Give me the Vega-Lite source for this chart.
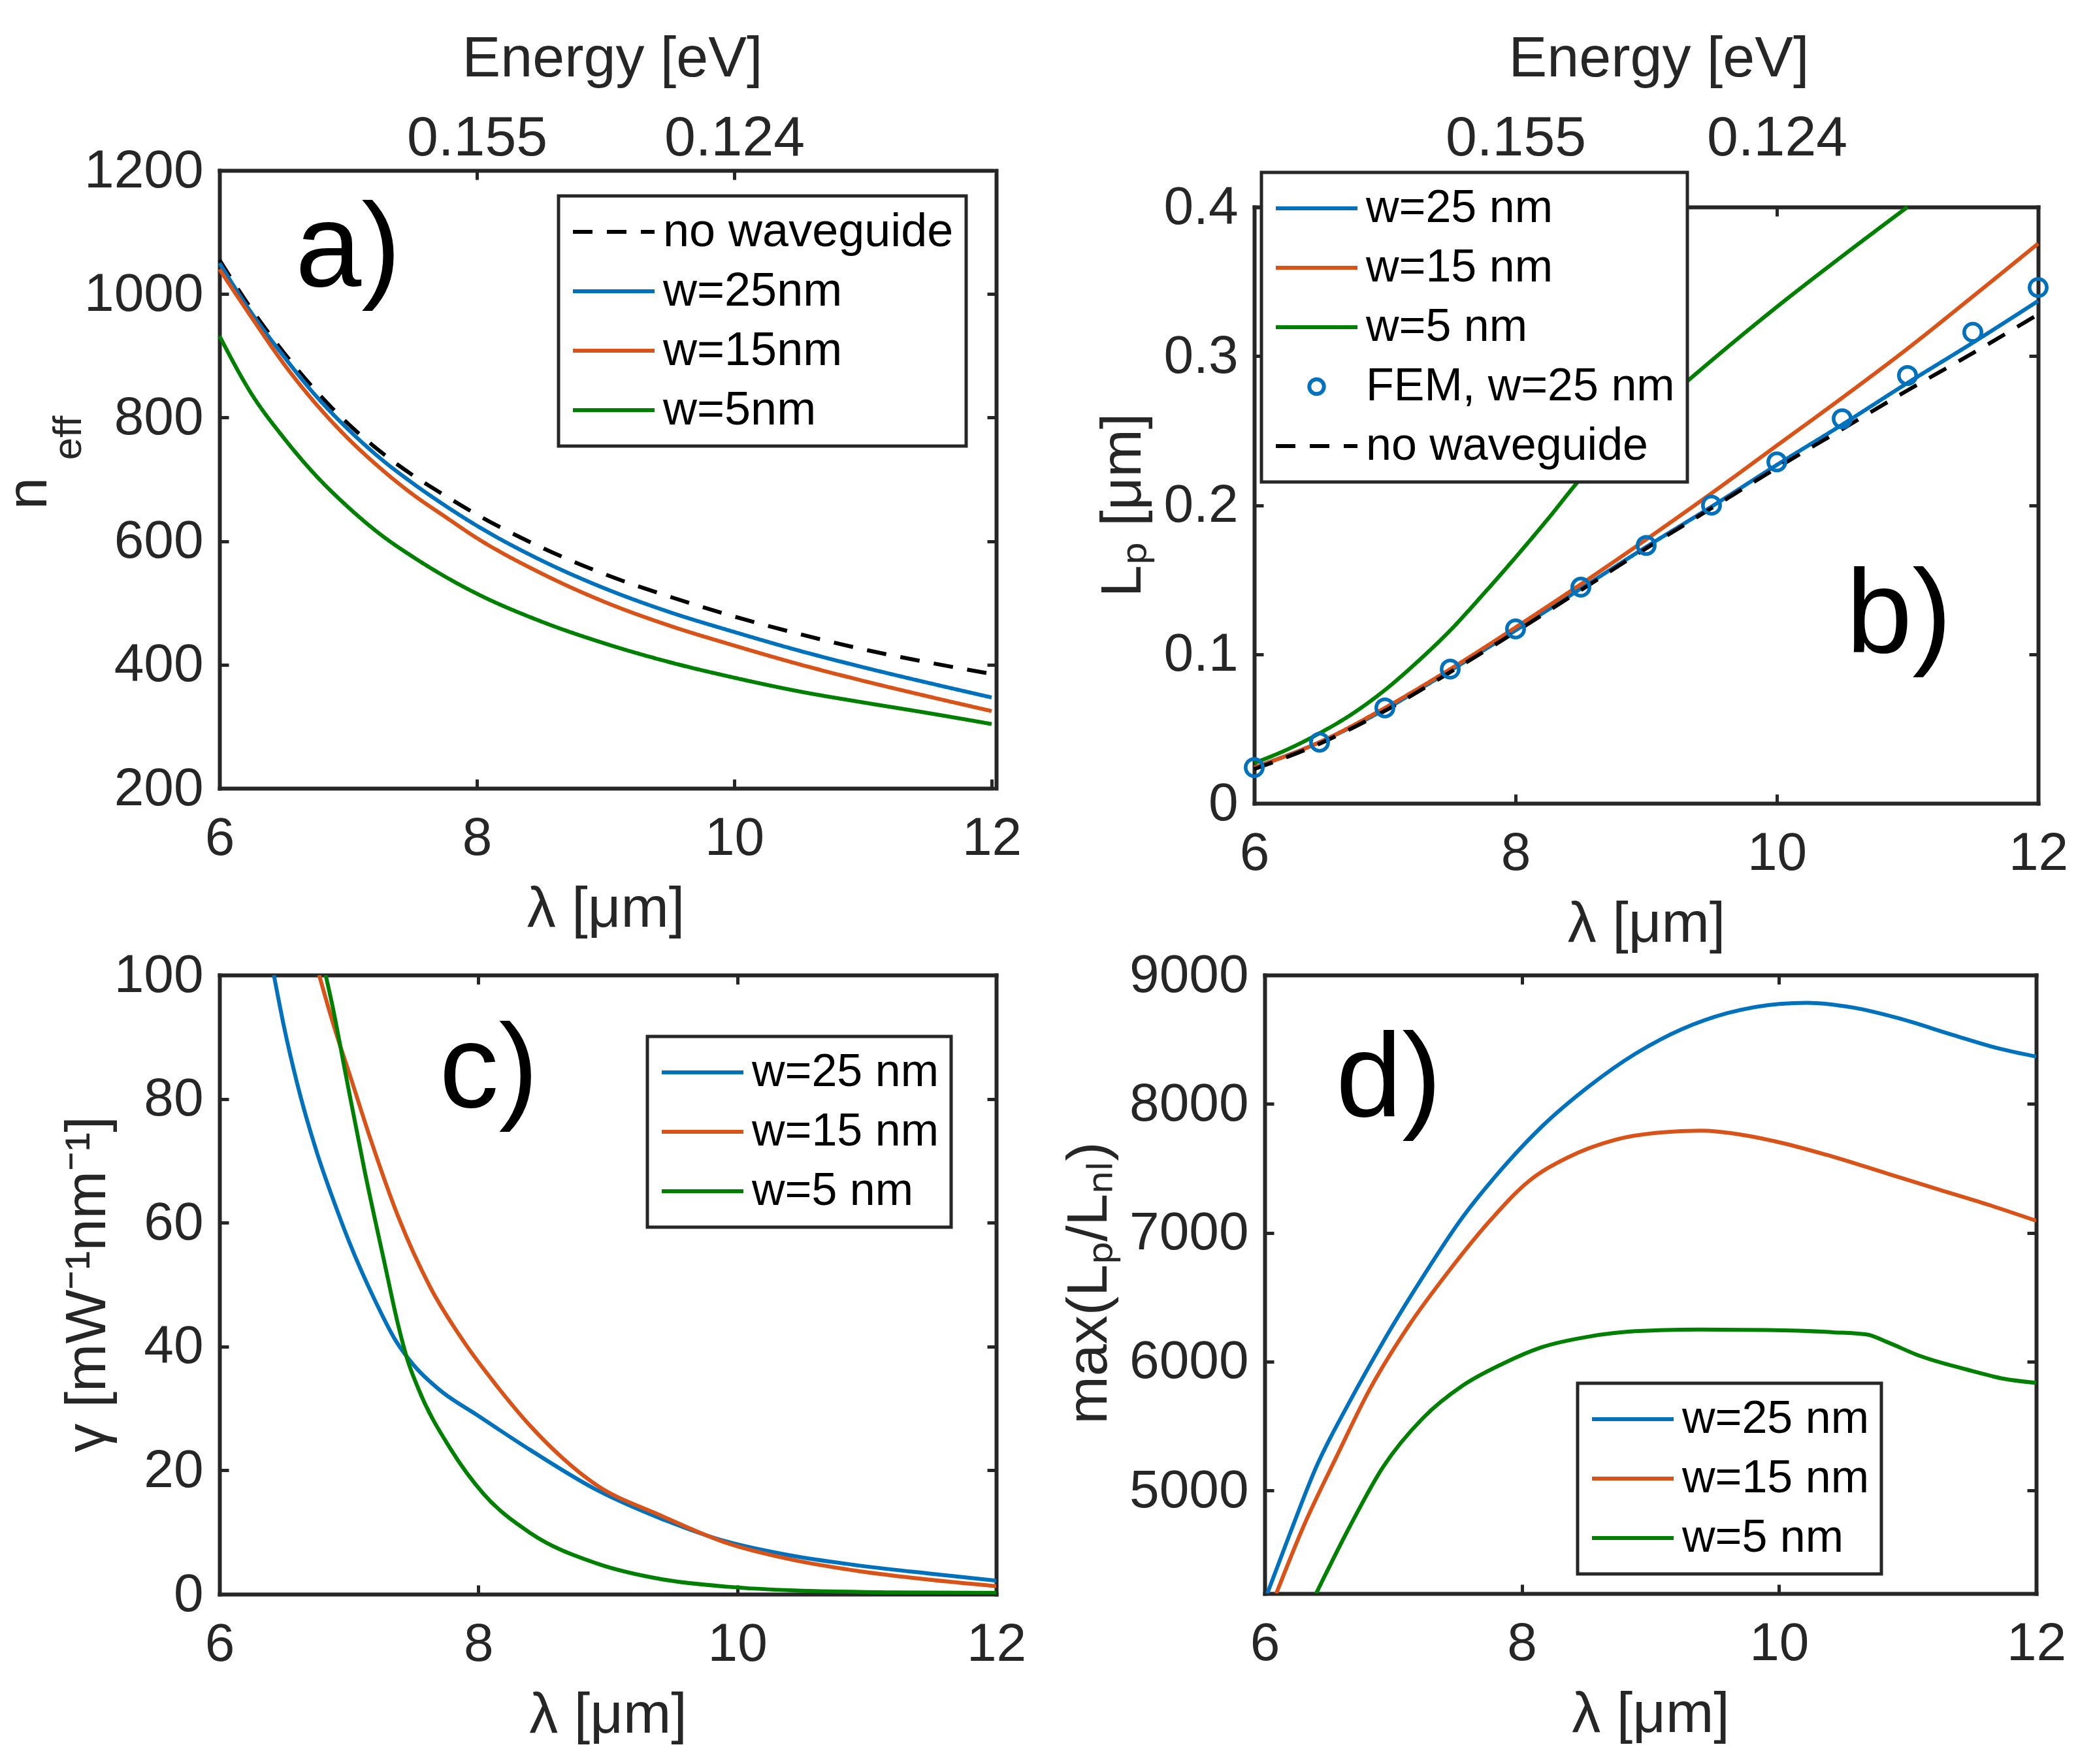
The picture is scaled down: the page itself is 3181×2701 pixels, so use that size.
{
  "$schema": "https://vega.github.io/schema/vega-lite/v6.json",
  "autosize": {"type": "none"},
  "padding": {"left": 336, "top": 261, "right": 2845, "bottom": 2440},
  "background": "white",
  "columns": 2,
  "spacing": {"row": 263, "column": 395},
  "bounds": "flush",
  "align": "each",
  "resolve": {"scale": {"color": "independent", "strokeDash": "independent"}, "legend": {"color": "independent", "strokeDash": "independent"}},
  "datasets": {
    "a": [
      {"lam": 6, "val": 1055, "s": "no waveguide"}, {"lam": 6.25, "val": 975, "s": "no waveguide"}, {"lam": 6.5, "val": 905, "s": "no waveguide"}, {"lam": 6.75, "val": 843, "s": "no waveguide"}, {"lam": 7, "val": 790, "s": "no waveguide"}, {"lam": 7.25, "val": 745, "s": "no waveguide"}, {"lam": 7.5, "val": 707, "s": "no waveguide"}, {"lam": 7.75, "val": 674, "s": "no waveguide"}, {"lam": 8, "val": 643, "s": "no waveguide"}, {"lam": 8.5, "val": 590, "s": "no waveguide"}, {"lam": 9, "val": 546, "s": "no waveguide"}, {"lam": 9.5, "val": 510, "s": "no waveguide"}, {"lam": 10, "val": 478, "s": "no waveguide"}, {"lam": 10.5, "val": 450, "s": "no waveguide"}, {"lam": 11, "val": 425, "s": "no waveguide"}, {"lam": 11.5, "val": 404, "s": "no waveguide"}, {"lam": 12, "val": 385, "s": "no waveguide"},
      {"lam": 6, "val": 1050, "s": "w=25nm"}, {"lam": 6.25, "val": 969, "s": "w=25nm"}, {"lam": 6.5, "val": 899, "s": "w=25nm"}, {"lam": 6.75, "val": 835, "s": "w=25nm"}, {"lam": 7, "val": 781, "s": "w=25nm"}, {"lam": 7.25, "val": 734, "s": "w=25nm"}, {"lam": 7.5, "val": 694, "s": "w=25nm"}, {"lam": 7.75, "val": 658, "s": "w=25nm"}, {"lam": 8, "val": 625, "s": "w=25nm"}, {"lam": 8.5, "val": 569, "s": "w=25nm"}, {"lam": 9, "val": 523, "s": "w=25nm"}, {"lam": 9.5, "val": 485, "s": "w=25nm"}, {"lam": 10, "val": 453, "s": "w=25nm"}, {"lam": 10.5, "val": 423, "s": "w=25nm"}, {"lam": 11, "val": 396, "s": "w=25nm"}, {"lam": 11.5, "val": 371, "s": "w=25nm"}, {"lam": 12, "val": 347, "s": "w=25nm"},
      {"lam": 6, "val": 1040, "s": "w=15nm"}, {"lam": 6.25, "val": 962, "s": "w=15nm"}, {"lam": 6.5, "val": 887, "s": "w=15nm"}, {"lam": 6.75, "val": 822, "s": "w=15nm"}, {"lam": 7, "val": 766, "s": "w=15nm"}, {"lam": 7.25, "val": 718, "s": "w=15nm"}, {"lam": 7.5, "val": 676, "s": "w=15nm"}, {"lam": 7.75, "val": 640, "s": "w=15nm"}, {"lam": 8, "val": 605, "s": "w=15nm"}, {"lam": 8.5, "val": 548, "s": "w=15nm"}, {"lam": 9, "val": 501, "s": "w=15nm"}, {"lam": 9.5, "val": 463, "s": "w=15nm"}, {"lam": 10, "val": 431, "s": "w=15nm"}, {"lam": 10.5, "val": 401, "s": "w=15nm"}, {"lam": 11, "val": 374, "s": "w=15nm"}, {"lam": 11.5, "val": 349, "s": "w=15nm"}, {"lam": 12, "val": 325, "s": "w=15nm"},
      {"lam": 6, "val": 932, "s": "w=5nm"}, {"lam": 6.25, "val": 838, "s": "w=5nm"}, {"lam": 6.5, "val": 767, "s": "w=5nm"}, {"lam": 6.75, "val": 706, "s": "w=5nm"}, {"lam": 7, "val": 655, "s": "w=5nm"}, {"lam": 7.25, "val": 611, "s": "w=5nm"}, {"lam": 7.5, "val": 575, "s": "w=5nm"}, {"lam": 7.75, "val": 543, "s": "w=5nm"}, {"lam": 8, "val": 515, "s": "w=5nm"}, {"lam": 8.5, "val": 470, "s": "w=5nm"}, {"lam": 9, "val": 434, "s": "w=5nm"}, {"lam": 9.5, "val": 404, "s": "w=5nm"}, {"lam": 10, "val": 379, "s": "w=5nm"}, {"lam": 10.5, "val": 357, "s": "w=5nm"}, {"lam": 11, "val": 339, "s": "w=5nm"}, {"lam": 11.5, "val": 322, "s": "w=5nm"}, {"lam": 12, "val": 304, "s": "w=5nm"}
    ],
    "b": [
      {"lam": 6, "val": 0.024, "s": "w=25 nm"}, {"lam": 6.5, "val": 0.041, "s": "w=25 nm"}, {"lam": 7, "val": 0.063, "s": "w=25 nm"}, {"lam": 7.5, "val": 0.089, "s": "w=25 nm"}, {"lam": 8, "val": 0.116, "s": "w=25 nm"}, {"lam": 8.5, "val": 0.144, "s": "w=25 nm"}, {"lam": 9, "val": 0.172, "s": "w=25 nm"}, {"lam": 9.5, "val": 0.199, "s": "w=25 nm"}, {"lam": 10, "val": 0.227, "s": "w=25 nm"}, {"lam": 10.5, "val": 0.254, "s": "w=25 nm"}, {"lam": 11, "val": 0.282, "s": "w=25 nm"}, {"lam": 11.5, "val": 0.309, "s": "w=25 nm"}, {"lam": 12, "val": 0.337, "s": "w=25 nm"},
      {"lam": 6, "val": 0.024, "s": "w=15 nm"}, {"lam": 6.5, "val": 0.041, "s": "w=15 nm"}, {"lam": 7, "val": 0.064, "s": "w=15 nm"}, {"lam": 7.5, "val": 0.090, "s": "w=15 nm"}, {"lam": 8, "val": 0.118, "s": "w=15 nm"}, {"lam": 8.5, "val": 0.147, "s": "w=15 nm"}, {"lam": 9, "val": 0.177, "s": "w=15 nm"}, {"lam": 9.5, "val": 0.208, "s": "w=15 nm"}, {"lam": 10, "val": 0.240, "s": "w=15 nm"}, {"lam": 10.5, "val": 0.272, "s": "w=15 nm"}, {"lam": 11, "val": 0.305, "s": "w=15 nm"}, {"lam": 11.5, "val": 0.340, "s": "w=15 nm"}, {"lam": 12, "val": 0.3755, "s": "w=15 nm"},
      {"lam": 6, "val": 0.027, "s": "w=5 nm"}, {"lam": 6.25, "val": 0.036, "s": "w=5 nm"}, {"lam": 6.5, "val": 0.047, "s": "w=5 nm"}, {"lam": 6.75, "val": 0.060, "s": "w=5 nm"}, {"lam": 7, "val": 0.076, "s": "w=5 nm"}, {"lam": 7.25, "val": 0.095, "s": "w=5 nm"}, {"lam": 7.5, "val": 0.116, "s": "w=5 nm"}, {"lam": 7.75, "val": 0.140, "s": "w=5 nm"}, {"lam": 8, "val": 0.165, "s": "w=5 nm"}, {"lam": 8.25, "val": 0.191, "s": "w=5 nm"}, {"lam": 8.5, "val": 0.218, "s": "w=5 nm"}, {"lam": 9, "val": 0.259, "s": "w=5 nm"}, {"lam": 9.5, "val": 0.297, "s": "w=5 nm"}, {"lam": 10, "val": 0.333, "s": "w=5 nm"}, {"lam": 10.5, "val": 0.367, "s": "w=5 nm"}, {"lam": 11, "val": 0.400, "s": "w=5 nm"},
      {"lam": 6, "val": 0.023, "s": "no waveguide"}, {"lam": 6.5, "val": 0.040, "s": "no waveguide"}, {"lam": 7, "val": 0.062, "s": "no waveguide"}, {"lam": 7.5, "val": 0.088, "s": "no waveguide"}, {"lam": 8, "val": 0.115, "s": "no waveguide"}, {"lam": 8.5, "val": 0.143, "s": "no waveguide"}, {"lam": 9, "val": 0.171, "s": "no waveguide"}, {"lam": 9.5, "val": 0.198, "s": "no waveguide"}, {"lam": 10, "val": 0.225, "s": "no waveguide"}, {"lam": 10.5, "val": 0.251, "s": "no waveguide"}, {"lam": 11, "val": 0.277, "s": "no waveguide"}, {"lam": 11.5, "val": 0.302, "s": "no waveguide"}, {"lam": 12, "val": 0.328, "s": "no waveguide"}
    ],
    "bfem": [
      {"lam": 6, "val": 0.024, "s": "FEM, w=25 nm"}, {"lam": 6.5, "val": 0.041, "s": "FEM, w=25 nm"}, {"lam": 7, "val": 0.064, "s": "FEM, w=25 nm"}, {"lam": 7.5, "val": 0.090, "s": "FEM, w=25 nm"}, {"lam": 8, "val": 0.117, "s": "FEM, w=25 nm"}, {"lam": 8.5, "val": 0.145, "s": "FEM, w=25 nm"}, {"lam": 9, "val": 0.173, "s": "FEM, w=25 nm"}, {"lam": 9.5, "val": 0.200, "s": "FEM, w=25 nm"}, {"lam": 10, "val": 0.229, "s": "FEM, w=25 nm"}, {"lam": 10.5, "val": 0.258, "s": "FEM, w=25 nm"}, {"lam": 11, "val": 0.287, "s": "FEM, w=25 nm"}, {"lam": 11.5, "val": 0.316, "s": "FEM, w=25 nm"}, {"lam": 12, "val": 0.346, "s": "FEM, w=25 nm"}
    ],
    "c": [
      {"lam": 6.42, "val": 100, "s": "w=25 nm"}, {"lam": 6.5, "val": 91.5, "s": "w=25 nm"}, {"lam": 6.6, "val": 82.5, "s": "w=25 nm"}, {"lam": 6.75, "val": 71.5, "s": "w=25 nm"}, {"lam": 6.9, "val": 62.5, "s": "w=25 nm"}, {"lam": 7.0, "val": 57, "s": "w=25 nm"}, {"lam": 7.2, "val": 47.5, "s": "w=25 nm"}, {"lam": 7.36, "val": 41, "s": "w=25 nm"}, {"lam": 7.5, "val": 37, "s": "w=25 nm"}, {"lam": 7.7, "val": 33, "s": "w=25 nm"}, {"lam": 8.0, "val": 28.8, "s": "w=25 nm"}, {"lam": 8.4, "val": 23.3, "s": "w=25 nm"}, {"lam": 8.9, "val": 17.0, "s": "w=25 nm"}, {"lam": 9.4, "val": 12.3, "s": "w=25 nm"}, {"lam": 9.9, "val": 8.6, "s": "w=25 nm"}, {"lam": 10.4, "val": 6.3, "s": "w=25 nm"}, {"lam": 10.95, "val": 4.6, "s": "w=25 nm"}, {"lam": 11.5, "val": 3.3, "s": "w=25 nm"}, {"lam": 12, "val": 2.2, "s": "w=25 nm"},
      {"lam": 6.77, "val": 100, "s": "w=15 nm"}, {"lam": 6.87, "val": 92.7, "s": "w=15 nm"}, {"lam": 7.02, "val": 83, "s": "w=15 nm"}, {"lam": 7.17, "val": 73.3, "s": "w=15 nm"}, {"lam": 7.38, "val": 61, "s": "w=15 nm"}, {"lam": 7.63, "val": 49.5, "s": "w=15 nm"}, {"lam": 7.89, "val": 40.7, "s": "w=15 nm"}, {"lam": 8.14, "val": 33.7, "s": "w=15 nm"}, {"lam": 8.4, "val": 27.2, "s": "w=15 nm"}, {"lam": 8.65, "val": 22.0, "s": "w=15 nm"}, {"lam": 8.9, "val": 17.8, "s": "w=15 nm"}, {"lam": 9.4, "val": 12.8, "s": "w=15 nm"}, {"lam": 9.9, "val": 8.4, "s": "w=15 nm"}, {"lam": 10.44, "val": 5.5, "s": "w=15 nm"}, {"lam": 10.95, "val": 3.7, "s": "w=15 nm"}, {"lam": 11.46, "val": 2.4, "s": "w=15 nm"}, {"lam": 12, "val": 1.3, "s": "w=15 nm"},
      {"lam": 6.82, "val": 100, "s": "w=5 nm"}, {"lam": 6.87, "val": 95.3, "s": "w=5 nm"}, {"lam": 6.97, "val": 84.5, "s": "w=5 nm"}, {"lam": 7.12, "val": 68.5, "s": "w=5 nm"}, {"lam": 7.28, "val": 53, "s": "w=5 nm"}, {"lam": 7.38, "val": 43.5, "s": "w=5 nm"}, {"lam": 7.45, "val": 38, "s": "w=5 nm"}, {"lam": 7.53, "val": 33.5, "s": "w=5 nm"}, {"lam": 7.79, "val": 23.3, "s": "w=5 nm"}, {"lam": 8.04, "val": 16.2, "s": "w=5 nm"}, {"lam": 8.4, "val": 9.9, "s": "w=5 nm"}, {"lam": 8.91, "val": 5.0, "s": "w=5 nm"}, {"lam": 9.42, "val": 2.4, "s": "w=5 nm"}, {"lam": 9.93, "val": 1.2, "s": "w=5 nm"}, {"lam": 10.44, "val": 0.6, "s": "w=5 nm"}, {"lam": 11.2, "val": 0.3, "s": "w=5 nm"}, {"lam": 12, "val": 0.2, "s": "w=5 nm"}
    ],
    "d": [
      {"lam": 6.02, "val": 4200, "s": "w=25 nm"}, {"lam": 6.2, "val": 4675, "s": "w=25 nm"}, {"lam": 6.4, "val": 5181, "s": "w=25 nm"}, {"lam": 6.66, "val": 5688, "s": "w=25 nm"}, {"lam": 6.92, "val": 6152, "s": "w=25 nm"}, {"lam": 7.23, "val": 6658, "s": "w=25 nm"}, {"lam": 7.54, "val": 7122, "s": "w=25 nm"}, {"lam": 7.85, "val": 7502, "s": "w=25 nm"}, {"lam": 8.15, "val": 7819, "s": "w=25 nm"}, {"lam": 8.52, "val": 8135, "s": "w=25 nm"}, {"lam": 8.88, "val": 8388, "s": "w=25 nm"}, {"lam": 9.24, "val": 8578, "s": "w=25 nm"}, {"lam": 9.6, "val": 8705, "s": "w=25 nm"}, {"lam": 10.0, "val": 8776, "s": "w=25 nm"}, {"lam": 10.22, "val": 8785, "s": "w=25 nm"}, {"lam": 10.58, "val": 8747, "s": "w=25 nm"}, {"lam": 10.94, "val": 8662, "s": "w=25 nm"}, {"lam": 11.35, "val": 8536, "s": "w=25 nm"}, {"lam": 11.71, "val": 8430, "s": "w=25 nm"}, {"lam": 12, "val": 8367, "s": "w=25 nm"},
      {"lam": 6.09, "val": 4200, "s": "w=15 nm"}, {"lam": 6.3, "val": 4717, "s": "w=15 nm"}, {"lam": 6.56, "val": 5265, "s": "w=15 nm"}, {"lam": 6.81, "val": 5772, "s": "w=15 nm"}, {"lam": 7.12, "val": 6278, "s": "w=15 nm"}, {"lam": 7.43, "val": 6700, "s": "w=15 nm"}, {"lam": 7.74, "val": 7080, "s": "w=15 nm"}, {"lam": 8.05, "val": 7397, "s": "w=15 nm"}, {"lam": 8.36, "val": 7586, "s": "w=15 nm"}, {"lam": 8.72, "val": 7720, "s": "w=15 nm"}, {"lam": 9.08, "val": 7778, "s": "w=15 nm"}, {"lam": 9.39, "val": 7792, "s": "w=15 nm"}, {"lam": 9.7, "val": 7762, "s": "w=15 nm"}, {"lam": 10.01, "val": 7700, "s": "w=15 nm"}, {"lam": 10.42, "val": 7590, "s": "w=15 nm"}, {"lam": 10.84, "val": 7460, "s": "w=15 nm"}, {"lam": 11.25, "val": 7333, "s": "w=15 nm"}, {"lam": 11.66, "val": 7207, "s": "w=15 nm"}, {"lam": 12, "val": 7093, "s": "w=15 nm"},
      {"lam": 6.40, "val": 4200, "s": "w=5 nm"}, {"lam": 6.66, "val": 4717, "s": "w=5 nm"}, {"lam": 6.92, "val": 5181, "s": "w=5 nm"}, {"lam": 7.23, "val": 5561, "s": "w=5 nm"}, {"lam": 7.54, "val": 5814, "s": "w=5 nm"}, {"lam": 7.85, "val": 5983, "s": "w=5 nm"}, {"lam": 8.15, "val": 6110, "s": "w=5 nm"}, {"lam": 8.52, "val": 6194, "s": "w=5 nm"}, {"lam": 8.88, "val": 6236, "s": "w=5 nm"}, {"lam": 9.39, "val": 6249, "s": "w=5 nm"}, {"lam": 9.91, "val": 6245, "s": "w=5 nm"}, {"lam": 10.42, "val": 6228, "s": "w=5 nm"}, {"lam": 10.68, "val": 6211, "s": "w=5 nm"}, {"lam": 10.84, "val": 6152, "s": "w=5 nm"}, {"lam": 11.09, "val": 6046, "s": "w=5 nm"}, {"lam": 11.45, "val": 5941, "s": "w=5 nm"}, {"lam": 11.76, "val": 5865, "s": "w=5 nm"}, {"lam": 12, "val": 5835, "s": "w=5 nm"}
    ]
  },
  "concat": [
    {
      "width": 1189, "height": 946,
      "layer": [
        {
          "data": {"name": "a"},
          "mark": {"type": "line", "strokeWidth": 6, "interpolate": "monotone"},
          "encoding": {
            "x": {"field": "lam", "type": "quantitative", "scale": {"domain": [6, 12], "range": [0, 1182], "nice": false, "zero": false},
                  "axis": {"orient": "bottom", "values": [6, 8, 10, 12], "labelPadding": 115, "labelBaseline": "alphabetic", "title": "λ [μm]", "titleY": 211, "titleBaseline": "alphabetic"}},
            "y": {"field": "val", "type": "quantitative", "scale": {"domain": [200, 1200], "nice": false, "zero": false},
                  "axis": {"orient": "left", "values": [200, 400, 600, 800, 1000, 1200], "format": "d", "labelPadding": 39, "title": "n", "titleX": -266, "titleY": 494, "titleAngle": 270, "titleAlign": "center", "titleBaseline": "alphabetic"}},
            "color": {"field": "s", "type": "nominal",
                      "scale": {"domain": ["no waveguide", "w=25nm", "w=15nm", "w=5nm"], "range": ["#000000", "#0072BD", "#D95319", "#008000"]},
                      "legend": {"legendX": 519, "legendY": 39, "labelFontSize": 72, "encode": {"symbols": {"update": {"strokeDash": {"signal": "datum.value === 'no waveguide' ? [30, 22] : [1, 0]"}}}}}},
            "strokeDash": {"field": "s", "type": "nominal", "scale": {"domain": ["no waveguide", "w=25nm", "w=15nm", "w=5nm"], "range": [[30, 22], [1, 0], [1, 0], [1, 0]]}, "legend": null}
          }
        },
        {
          "data": {"values": [{"label": "a)"}]},
          "mark": {"type": "text", "fontSize": 182, "align": "center", "baseline": "alphabetic", "color": "#000000", "font": "Liberation Sans"},
          "encoding": {
            "x": {"datum": 7.0, "type": "quantitative", "scale": {"domain": [6, 12], "range": [0, 1182], "nice": false, "zero": false},
                  "axis": {"orient": "top", "values": [8, 10], "labelExpr": "datum.value == 8 ? '0.155' : '0.124'", "labelFontSize": 86, "labelPadding": 38, "labelBaseline": "alphabetic", "title": "Energy [eV]", "titleX": 601, "titleY": -145, "titleBaseline": "alphabetic"}},
            "y": {"datum": 1013, "type": "quantitative", "scale": {"domain": [200, 1200], "nice": false, "zero": false},
                  "axis": {"orient": "right", "values": [200, 400, 600, 800, 1000, 1200], "labels": false, "title": "eff", "titleFontSize": 62, "titleX": -1402, "titleY": 409, "titleAngle": 270, "titleAlign": "center", "titleBaseline": "alphabetic"}},
            "text": {"field": "label"}
          }
        }
      ],
      "resolve": {"axis": {"x": "independent", "y": "independent"}}
    },
    {
      "width": 1200, "height": 969,
      "layer": [
        {
          "data": {"name": "b"},
          "mark": {"type": "line", "strokeWidth": 6, "interpolate": "monotone"},
          "encoding": {
            "x": {"field": "lam", "type": "quantitative", "scale": {"domain": [6, 12], "nice": false, "zero": false},
                  "axis": {"orient": "bottom", "values": [6, 8, 10, 12], "labelPadding": 115, "labelBaseline": "alphabetic", "title": "λ [μm]", "titleY": 211, "titleBaseline": "alphabetic"}},
            "y": {"field": "val", "type": "quantitative", "scale": {"domain": [0, 0.4], "range": [969, 56], "nice": false, "zero": false},
                  "axis": {"orient": "left", "values": [0, 0.1, 0.2, 0.3, 0.4], "format": "~g", "labelPadding": 39, "title": "Lₚ [μm]", "titleX": -175, "titleY": 512, "titleAngle": 270, "titleAlign": "center", "titleBaseline": "alphabetic"}},
            "color": {"field": "s", "type": "nominal",
                      "scale": {"domain": ["w=25 nm", "w=15 nm", "w=5 nm", "FEM, w=25 nm", "no waveguide"], "range": ["#0072BD", "#D95319", "#008000", "#0072BD", "#000000"]},
                      "legend": {"legendX": 11, "legendY": 3, "symbolType": "stroke", "labelFontSize": 70, "encode": {"symbols": {"update": {"strokeDash": {"signal": "datum.value === 'no waveguide' ? [30, 22] : [1, 0]"}, "shape": {"signal": "datum.value === 'FEM, w=25 nm' ? 'circle' : 'stroke'"}, "size": {"signal": "datum.value === 'FEM, w=25 nm' ? 500 : 15625"}, "fill": {"value": "transparent"}}}}}},
            "strokeDash": {"field": "s", "type": "nominal", "scale": {"domain": ["w=25 nm", "w=15 nm", "w=5 nm", "no waveguide"], "range": [[1, 0], [1, 0], [1, 0], [30, 22]]}, "legend": null}
          }
        },
        {
          "data": {"name": "bfem"},
          "mark": {"type": "point", "filled": false, "size": 700, "strokeWidth": 5.5, "opacity": 1},
          "encoding": {
            "x": {"field": "lam", "type": "quantitative", "scale": {"domain": [6, 12], "nice": false, "zero": false}, "axis": null},
            "y": {"field": "val", "type": "quantitative", "scale": {"domain": [0, 0.4], "range": [969, 56], "nice": false, "zero": false}, "axis": null},
            "color": {"field": "s", "type": "nominal",
                      "scale": {"domain": ["w=25 nm", "w=15 nm", "w=5 nm", "FEM, w=25 nm", "no waveguide"], "range": ["#0072BD", "#D95319", "#008000", "#0072BD", "#000000"]},
                      "legend": {"legendX": 11, "legendY": 3, "symbolType": "stroke", "labelFontSize": 70, "encode": {"symbols": {"update": {"strokeDash": {"signal": "datum.value === 'no waveguide' ? [30, 22] : [1, 0]"}, "shape": {"signal": "datum.value === 'FEM, w=25 nm' ? 'circle' : 'stroke'"}, "size": {"signal": "datum.value === 'FEM, w=25 nm' ? 500 : 15625"}, "fill": {"value": "transparent"}}}}}}
          }
        },
        {
          "data": {"values": [{"label": "b)"}]},
          "mark": {"type": "text", "fontSize": 182, "align": "center", "baseline": "alphabetic", "color": "#000000", "font": "Liberation Sans"},
          "encoding": {
            "x": {"datum": 10.935, "type": "quantitative", "scale": {"domain": [6, 12], "nice": false, "zero": false},
                  "axis": {"orient": "top", "offset": -56, "values": [8, 10], "labelExpr": "datum.value == 8 ? '0.155' : '0.124'", "labelFontSize": 86, "labelPadding": 94, "labelBaseline": "alphabetic", "title": "Energy [eV]", "titleX": 619, "titleY": -201, "titleBaseline": "alphabetic"}},
            "y": {"datum": 0.1012, "type": "quantitative", "scale": {"domain": [0, 0.4], "range": [969, 56], "nice": false, "zero": false},
                  "axis": {"orient": "right", "values": [0, 0.1, 0.2, 0.3, 0.4], "labels": false, "title": null}},
            "text": {"field": "label"}
          }
        }
      ],
      "resolve": {"axis": {"x": "independent", "y": "independent"}}
    },
    {
      "width": 1189, "height": 948,
      "layer": [
        {
          "data": {"name": "c"},
          "mark": {"type": "line", "strokeWidth": 6, "interpolate": "monotone", "clip": true},
          "encoding": {
            "x": {"field": "lam", "type": "quantitative", "scale": {"domain": [6, 12], "nice": false, "zero": false},
                  "axis": {"orient": "bottom", "values": [6, 8, 10, 12], "labelPadding": 115, "labelBaseline": "alphabetic", "title": "λ [μm]", "titleY": 211, "titleBaseline": "alphabetic"}},
            "y": {"field": "val", "type": "quantitative", "scale": {"domain": [0, 100], "nice": false, "zero": false},
                  "axis": {"orient": "left", "values": [0, 20, 40, 60, 80, 100], "labelPadding": 39, "title": "γ [mW⁻¹nm⁻¹]", "titleX": -176, "titleY": 473, "titleAngle": 270, "titleAlign": "center", "titleBaseline": "alphabetic"}},
            "color": {"field": "s", "type": "nominal",
                      "scale": {"domain": ["w=25 nm", "w=15 nm", "w=5 nm"], "range": ["#0072BD", "#D95319", "#008000"]},
                      "legend": {"legendX": 655, "legendY": 94}}
          }
        },
        {
          "data": {"values": [{"label": "c)"}]},
          "mark": {"type": "text", "fontSize": 182, "align": "center", "baseline": "alphabetic", "color": "#000000", "font": "Liberation Sans"},
          "encoding": {
            "x": {"datum": 8.08, "type": "quantitative", "scale": {"domain": [6, 12], "nice": false, "zero": false},
                  "axis": {"orient": "top", "values": [8, 10], "labels": false, "title": null}},
            "y": {"datum": 78.7, "type": "quantitative", "scale": {"domain": [0, 100], "nice": false, "zero": false},
                  "axis": {"orient": "right", "values": [0, 20, 40, 60, 80, 100], "labels": false, "title": null}},
            "text": {"field": "label"}
          }
        }
      ],
      "resolve": {"axis": {"x": "independent", "y": "independent"}}
    },
    {
      "width": 1197, "height": 947,
      "layer": [
        {
          "data": {"name": "d"},
          "mark": {"type": "line", "strokeWidth": 6, "interpolate": "monotone", "clip": true},
          "encoding": {
            "x": {"field": "lam", "type": "quantitative", "scale": {"domain": [6, 12], "range": [16, 1197], "nice": false, "zero": false},
                  "axis": {"orient": "bottom", "values": [6, 8, 10, 12], "labelPadding": 115, "labelBaseline": "alphabetic", "title": "λ [μm]", "titleY": 211, "titleBaseline": "alphabetic"}},
            "y": {"field": "val", "type": "quantitative", "scale": {"domain": [4200, 9000], "nice": false, "zero": false},
                  "axis": {"orient": "left", "offset": -16, "values": [5000, 6000, 7000, 8000, 9000], "format": "d", "labelPadding": 39, "title": "max(Lₚ/Lₙₗ)", "titleX": -243, "titleY": 471, "titleAngle": 270, "titleAlign": "center", "titleBaseline": "alphabetic"}},
            "color": {"field": "s", "type": "nominal",
                      "scale": {"domain": ["w=25 nm", "w=15 nm", "w=5 nm"], "range": ["#0072BD", "#D95319", "#008000"]},
                      "legend": {"legendX": 495, "legendY": 625}}
          }
        },
        {
          "data": {"values": [{"label": "d)"}]},
          "mark": {"type": "text", "fontSize": 182, "align": "center", "baseline": "alphabetic", "color": "#000000", "font": "Liberation Sans"},
          "encoding": {
            "x": {"datum": 6.965, "type": "quantitative", "scale": {"domain": [6, 12], "range": [16, 1197], "nice": false, "zero": false},
                  "axis": {"orient": "top", "values": [8, 10], "labels": false, "title": null}},
            "y": {"datum": 7905, "type": "quantitative", "scale": {"domain": [4200, 9000], "nice": false, "zero": false},
                  "axis": {"orient": "right", "values": [5000, 6000, 7000, 8000, 9000], "labels": false, "title": null}},
            "text": {"field": "label"}
          }
        }
      ],
      "resolve": {"axis": {"x": "independent", "y": "independent"}}
    }
  ],
  "config": {
    "font": "Liberation Sans",
    "view": {"stroke": null},
    "axis": {
      "labelFont": "Liberation Sans", "labelFontSize": 82, "labelColor": "#262626",
      "titleFont": "Liberation Sans", "titleFontSize": 88, "titleFontWeight": "normal", "titleColor": "#262626",
      "domainColor": "#262626", "domainWidth": 6, "domainCap": "square",
      "tickColor": "#262626", "tickWidth": 5, "tickSize": -14,
      "grid": false, "labelFlush": false, "labelOverlap": false, "labelLimit": 1000, "titleLimit": 2000
    },
    "legend": {
      "orient": "none", "title": null,
      "labelFont": "Liberation Sans", "labelFontSize": 70, "labelColor": "#000000", "labelLimit": 2000, "labelOffset": 10,
      "strokeColor": "#262626", "fillColor": "#ffffff", "strokeWidth": 5, "padding": 19, "cornerRadius": 0,
      "symbolType": "stroke", "symbolSize": 15625, "symbolStrokeWidth": 6,
      "clipHeight": 72, "rowPadding": 19
    }
  }
}
